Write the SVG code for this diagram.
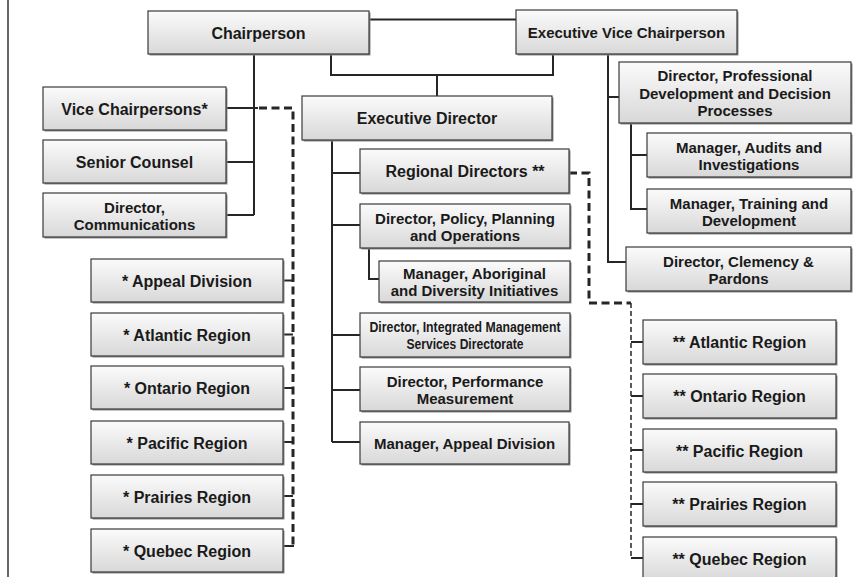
<svg xmlns="http://www.w3.org/2000/svg" width="853" height="577" viewBox="0 0 853 577">
<defs>
<linearGradient id="g" x1="0" y1="0" x2="0" y2="1">
<stop offset="0" stop-color="#fbfbfb"/>
<stop offset="1" stop-color="#d8d8d8"/>
</linearGradient>
<style>
.b{fill:url(#g);stroke:#3a3a3a;stroke-width:1.2}
.s{fill:#8c8c8c}
text{font-family:"Liberation Sans",Arial,sans-serif;font-weight:bold;font-size:16px;fill:#1a1a1a;text-anchor:middle}
.m{font-size:15px}
.c{fill:none;stroke:#262626;stroke-width:2}
.d{fill:none;stroke:#262626;stroke-width:3;stroke-dasharray:8 4.5}
.t{fill:none;stroke:#333;stroke-width:1.6;stroke-dasharray:5 3}
</style>
</defs>
<rect width="853" height="577" fill="#fff"/>
<line x1="8" y1="0" x2="8" y2="577" stroke="#333" stroke-width="1.5"/>

<g id="connectors">
<path class="c" d="M369,19.5 H516"/>
<path class="c" d="M331,54 V75 H553 V54"/>
<path class="c" d="M437,75 V96"/>
<path class="c" d="M254,54 V215"/>
<path class="c" d="M226,108 H258 M226,162 H254 M226,215 H254"/>
<path class="c" d="M332,140 V442"/>
<path class="c" d="M332,173 H360 M332,225 H360 M332,335 H360 M332,390 H360 M332,442 H360"/>
<path class="c" d="M369,248 V279 H379"/>
<path class="c" d="M608,54 V262 H626"/>
<path class="c" d="M608,97 H619"/>
<path class="c" d="M631,123 V209 H647 M631,155 H647"/>
<path class="d" d="M259,108 H293 V546"/>
<path class="c" d="M283,280.5 H293 M283,334.5 H293 M283,388 H293 M283,442 H293 M283,496 H293 M283,546 H294"/>
<path class="d" d="M569,173 H589 V303 H631"/>
<path class="t" d="M631,303 V558"/>
<path class="c" d="M631,342 H643 M631,396 H643 M631,450 H643 M631,504 H643 M631,558 H643"/>
</g>

<g id="chairperson"><rect class="s" x="149.5" y="12.5" width="221" height="43"/><rect class="b" x="148" y="11" width="221" height="43"/><text x="258.5" y="38.5">Chairperson</text></g>
<g id="exec-vice-chair"><rect class="s" x="517.5" y="11.5" width="221" height="44"/><rect class="b" x="516" y="10" width="221" height="44"/><text class="m" x="626.5" y="38">Executive Vice Chairperson</text></g>
<g id="vice-chairs"><rect class="s" x="44.5" y="88.5" width="183" height="43"/><rect class="b" x="43" y="87" width="183" height="43"/><text x="134.5" y="114.5">Vice Chairpersons*</text></g>
<g id="senior-counsel"><rect class="s" x="44.5" y="141.5" width="183" height="43"/><rect class="b" x="43" y="140" width="183" height="43"/><text x="134.5" y="167.5">Senior Counsel</text></g>
<g id="dir-comm"><rect class="s" x="44.5" y="194.5" width="183" height="44"/><rect class="b" x="43" y="193" width="183" height="44"/><text class="m" x="134.5" y="212.5">Director,</text><text class="m" x="134.5" y="229.5">Communications</text></g>
<g id="exec-director"><rect class="s" x="303.5" y="97.5" width="250" height="44"/><rect class="b" x="302" y="96" width="250" height="44"/><text x="427" y="124">Executive Director</text></g>
<g id="regional-directors"><rect class="s" x="361.5" y="150.5" width="209" height="44"/><rect class="b" x="360" y="149" width="209" height="44"/><text x="465" y="177">Regional Directors **</text></g>
<g id="dir-policy"><rect class="s" x="361.5" y="205.5" width="210" height="44"/><rect class="b" x="360" y="204" width="210" height="44"/><text class="m" x="465" y="223.5">Director, Policy, Planning</text><text class="m" x="465" y="240.5">and Operations</text></g>
<g id="mgr-aboriginal"><rect class="s" x="380.5" y="262.5" width="191" height="41"/><rect class="b" x="379" y="261" width="191" height="41"/><text class="m" x="474.5" y="279">Manager, Aboriginal</text><text class="m" x="474.5" y="296">and Diversity Initiatives</text></g>
<g id="dir-integrated"><rect class="s" x="361.5" y="314.5" width="210" height="44"/><rect class="b" x="360" y="313" width="210" height="44"/><text class="m" x="465" y="332" textLength="191" lengthAdjust="spacingAndGlyphs">Director, Integrated Management</text><text class="m" x="465" y="349" textLength="117" lengthAdjust="spacingAndGlyphs">Services Directorate</text></g>
<g id="dir-performance"><rect class="s" x="361.5" y="368.5" width="210" height="44"/><rect class="b" x="360" y="367" width="210" height="44"/><text class="m" x="465" y="386.5">Director, Performance</text><text class="m" x="465" y="403.5">Measurement</text></g>
<g id="mgr-appeal"><rect class="s" x="361.5" y="423.5" width="209" height="42"/><rect class="b" x="360" y="422" width="209" height="42"/><text class="m" x="464.5" y="448.5">Manager, Appeal Division</text></g>
<g id="dir-professional"><rect class="s" x="620.5" y="63.5" width="232" height="61"/><rect class="b" x="619" y="62" width="232" height="61"/><text class="m" x="735" y="81">Director, Professional</text><text class="m" x="735" y="98.5">Development and Decision</text><text class="m" x="735" y="116">Processes</text></g>
<g id="mgr-audits"><rect class="s" x="648.5" y="134.5" width="204" height="44"/><rect class="b" x="647" y="133" width="204" height="44"/><text class="m" x="749" y="152.5">Manager, Audits and</text><text class="m" x="749" y="169.5">Investigations</text></g>
<g id="mgr-training"><rect class="s" x="648.5" y="190.5" width="204" height="44"/><rect class="b" x="647" y="189" width="204" height="44"/><text class="m" x="749" y="208.5">Manager, Training and</text><text class="m" x="749" y="225.5">Development</text></g>
<g id="dir-clemency"><rect class="s" x="627.5" y="248.5" width="225" height="44"/><rect class="b" x="626" y="247" width="225" height="44"/><text class="m" x="738.5" y="266.5">Director, Clemency &amp;</text><text class="m" x="738.5" y="283.5">Pardons</text></g>

<g id="l-appeal"><rect class="s" x="92.5" y="260.5" width="192" height="43"/><rect class="b" x="91" y="259" width="192" height="43"/><text x="187" y="286.5">* Appeal Division</text></g>
<g id="l-atlantic"><rect class="s" x="92.5" y="314.5" width="192" height="43"/><rect class="b" x="91" y="313" width="192" height="43"/><text x="187" y="340.5">* Atlantic Region</text></g>
<g id="l-ontario"><rect class="s" x="92.5" y="367.5" width="192" height="43"/><rect class="b" x="91" y="366" width="192" height="43"/><text x="187" y="393.5">* Ontario Region</text></g>
<g id="l-pacific"><rect class="s" x="92.5" y="422.5" width="192" height="43"/><rect class="b" x="91" y="421" width="192" height="43"/><text x="187" y="448.5">* Pacific Region</text></g>
<g id="l-prairies"><rect class="s" x="92.5" y="476.5" width="192" height="43"/><rect class="b" x="91" y="475" width="192" height="43"/><text x="187" y="502.5">* Prairies Region</text></g>
<g id="l-quebec"><rect class="s" x="92.5" y="530.5" width="192" height="43"/><rect class="b" x="91" y="529" width="192" height="43"/><text x="187" y="556.5">* Quebec Region</text></g>

<g id="r-atlantic"><rect class="s" x="644.5" y="321.5" width="193" height="44"/><rect class="b" x="643" y="320" width="193" height="44"/><text x="739.5" y="348">** Atlantic Region</text></g>
<g id="r-ontario"><rect class="s" x="644.5" y="375.5" width="193" height="44"/><rect class="b" x="643" y="374" width="193" height="44"/><text x="739.5" y="402">** Ontario Region</text></g>
<g id="r-pacific"><rect class="s" x="644.5" y="430.5" width="193" height="43"/><rect class="b" x="643" y="429" width="193" height="43"/><text x="739.5" y="456.5">** Pacific Region</text></g>
<g id="r-prairies"><rect class="s" x="644.5" y="483.5" width="193" height="44"/><rect class="b" x="643" y="482" width="193" height="44"/><text x="739.5" y="510">** Prairies Region</text></g>
<g id="r-quebec"><rect class="s" x="644.5" y="538.5" width="193" height="44"/><rect class="b" x="643" y="537" width="193" height="44"/><text x="739.5" y="565">** Quebec Region</text></g>
</svg>
